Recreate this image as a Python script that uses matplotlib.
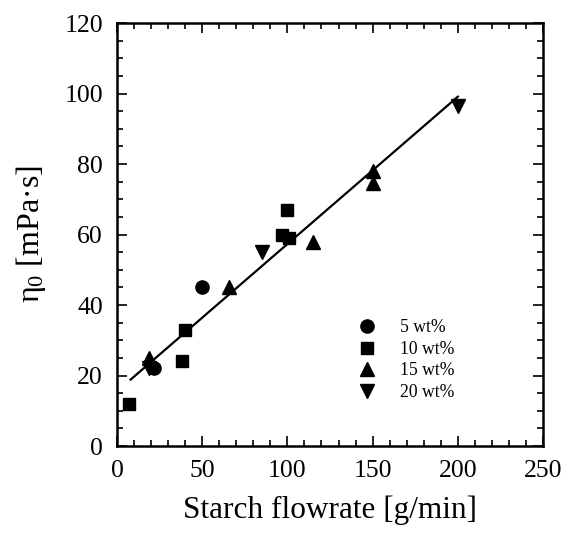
import matplotlib
matplotlib.use("Agg")
import matplotlib.pyplot as plt
import numpy as np
from matplotlib.ticker import MultipleLocator

plt.rcParams['font.family'] = ['Liberation Serif', 'DejaVu Serif']
plt.rcParams['mathtext.fontset'] = 'custom'
plt.rcParams['mathtext.rm'] = 'Liberation Serif'
plt.rcParams['mathtext.it'] = 'Liberation Serif:italic'

# data
x5 = [22, 50]
y5 = [22, 45]
x10 = [7, 40, 38, 100, 97, 101]
y10 = [12, 33, 24, 67, 60, 59]
x15 = [19, 66, 115, 150, 150]
y15 = [25, 45, 58, 78, 74.5]
x20 = [19, 85, 200]
y20 = [22, 55, 96.5]

# fitted line
fit_slope = 0.418
fit_intercept = 15.5
fit_range = [8, 200]

fig = plt.figure(figsize=(5.64, 5.33), dpi=100)
ax = fig.add_axes([0.2074, 0.1632, 0.7554, 0.7936])

ms = 9.5
ax.plot(x5, y5, 'o', color='black', ms=ms, label='5 wt%')
ax.plot(x10, y10, 's', color='black', ms=ms - 0.5, label='10 wt%')
ax.plot(x15, y15, '^', color='black', ms=ms, label='15 wt%')
ax.plot(x20, y20, 'v', color='black', ms=ms, label='20 wt%')

xl = np.array(fit_range)
ax.plot(xl, fit_slope * xl + fit_intercept, color='black', lw=1.6)

ax.set_xlim(0, 250)
ax.set_ylim(0, 120)
ax.xaxis.set_major_locator(MultipleLocator(50))
ax.xaxis.set_minor_locator(MultipleLocator(10))
ax.yaxis.set_major_locator(MultipleLocator(20))
ax.yaxis.set_minor_locator(MultipleLocator(5))
ax.tick_params(which='both', direction='in', top=True, right=True, width=1.2)
ax.tick_params(which='major', length=7, labelsize=18.5, pad=10)
ax.tick_params(which='minor', length=4)
for s in ax.spines.values():
    s.set_linewidth(1.8)

ax.set_xlabel('Starch flowrate [g/min]', fontsize=22.5, labelpad=10)
ax.set_ylabel('η$_0$ [mPa·s]', fontsize=23, labelpad=12)

ax.legend(loc='upper left', bbox_to_anchor=(0.535, 0.32), frameon=False,
          fontsize=12.7, handletextpad=1.1, labelspacing=0.25,
          handlelength=1.5, borderpad=0)

fig.savefig('out.png', dpi=100)
